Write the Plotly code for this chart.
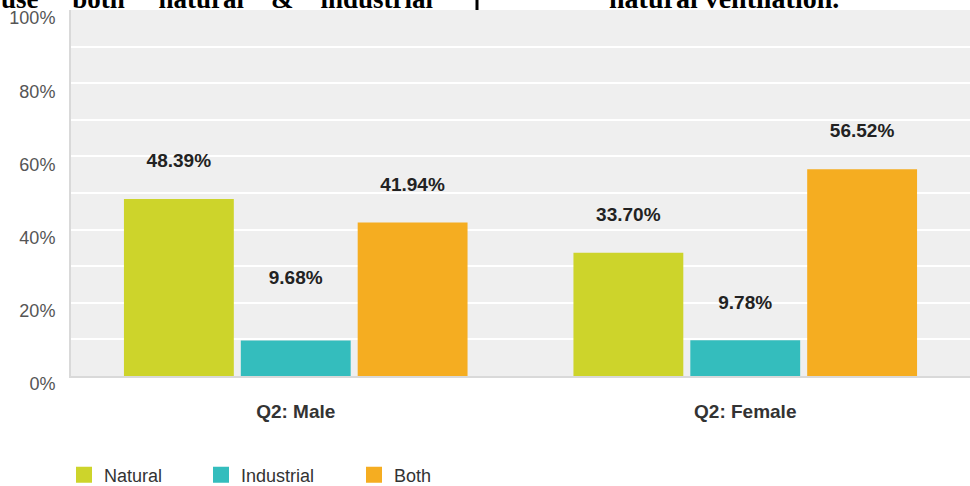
import plotly.graph_objects as go

categories = ["Q2: Male", "Q2: Female"]
series_names = ["Natural", "Industrial", "Both"]
natural = [48.39, 33.70]
industrial = [9.68, 9.78]
both = [41.94, 56.52]
y_ticks = [0, 20, 40, 60, 80, 100]
y_tick_labels = ["0%", "20%", "40%", "60%", "80%", "100%"]

colors = ["#cdd42b", "#34bdbd", "#f5ad21"]
# extra blank lines above particular labels (as in the original rendering)
extra_lift = {("Industrial", 0): 1}
legend_widths = {"Natural": 92, "Industrial": 108, "Both": 80}

FONT = "Arial, Liberation Sans, sans-serif"

fig = go.Figure()
for name, vals, col in zip(series_names, [natural, industrial, both], colors):
    texts = []
    for i, v in enumerate(vals):
        n = 1 + extra_lift.get((name, i), 0)
        texts.append(f"{v:.2f}%" + "<br> " * n)
    fig.add_trace(go.Bar(
        x=categories, y=vals, name=name,
        marker=dict(color=col, line=dict(width=0)),
        text=texts, texttemplate="%{text}", textposition="outside",
        textfont=dict(family=FONT, size=19, color="#222", weight="bold"),
        cliponaxis=False, showlegend=False, hoverinfo="skip",
    ))
for name, col in zip(series_names, colors):
    fig.add_trace(go.Scatter(
        x=[None], y=[None], mode="markers", name=name,
        marker=dict(symbol="square", size=20, color=col),
        showlegend=True, legendwidth=legend_widths[name],
    ))

fig.update_layout(
    width=970, height=486,
    margin=dict(l=71, r=0, t=10, b=110, autoexpand=False),
    paper_bgcolor="white", plot_bgcolor="#efefef",
    barmode="group", bargap=0.22, bargroupgap=0.06,
    font=dict(family=FONT, color="#333"),
    legend=dict(orientation="h", xref="container", yref="container",
                x=64/970, xanchor="left", y=1 - 475/486, yanchor="middle",
                font=dict(size=18, color="#333"), itemsizing="trace",
                bgcolor="rgba(0,0,0,0)"),
    showlegend=True,
)
fig.update_yaxes(
    range=[0, 100], tickvals=y_ticks, ticktext=y_tick_labels,
    showgrid=True, gridcolor="white", gridwidth=2,
    minor=dict(dtick=10, showgrid=True, gridcolor="white", gridwidth=2),
    showline=True, linecolor="#d9d9d9", linewidth=2,
    tickfont=dict(size=18, color="#555"), ticks="", ticklabelshift=8, ticklabelstandoff=10,
    ticklabeloverflow="allow", automargin=False,
    zeroline=False, fixedrange=True,
)
fig.update_xaxes(
    showline=True, linecolor="#d9d9d9", linewidth=2, ticks="",
    tickfont=dict(size=19, color="#333", weight="bold"), ticklabelstandoff=17,
    automargin=False, fixedrange=True,
)

nb = "\u00a0"
fig.add_annotation(
    xref="paper", yref="paper", x=-72/899, y=1, xanchor="left", yanchor="bottom",
    yshift=-6, showarrow=False,
    text="<b>use" + nb*5 + "both" + nb*5 + "natural" + nb*4 + "&amp;" + nb*4 + "industrial</b>",
    font=dict(family="Liberation Serif, Times New Roman, serif", size=27, color="black"),
)
fig.add_annotation(
    xref="paper", yref="paper", x=(724-71)/899, y=1, xanchor="center", yanchor="bottom",
    yshift=-6, showarrow=False,
    text="<b>natural ventilation.</b>",
    font=dict(family="Liberation Serif, Times New Roman, serif", size=28, color="black"),
)
fig.add_shape(type="line", xref="paper", yref="paper",
              x0=(477-71)/899, x1=(477-71)/899, y0=1, y1=1.05,
              line=dict(color="black", width=3))

fig.write_html("out.html", config={"displayModeBar": False},
               post_script="document.body.style.margin='0';")
